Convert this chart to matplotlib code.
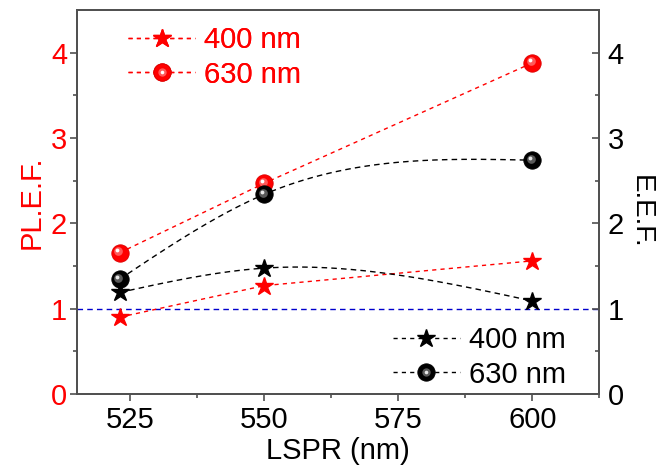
import numpy as np
import matplotlib
matplotlib.use("Agg")
import matplotlib.pyplot as plt
from matplotlib.transforms import offset_copy
from matplotlib.lines import Line2D
from matplotlib.legend_handler import HandlerTuple

# ---- data ----
lspr = [523, 550, 600]
pl_400 = [0.90, 1.27, 1.56]
pl_630 = [1.655, 2.47, 3.88]
eef_400 = [1.19, 1.475, 1.09]
eef_630 = [1.345, 2.34, 2.74]
series_labels = ["400 nm", "630 nm"]
x_ticks = [525, 550, 575, 600]
y_ticks = [0, 1, 2, 3, 4]

plt.rcParams['font.family'] = ['Liberation Sans', 'DejaVu Sans']
FS = 21


def natural_spline(x, y, n=200):
    x = np.asarray(x, float); y = np.asarray(y, float)
    k = len(x); h = np.diff(x)
    A = np.zeros((k, k)); b = np.zeros(k)
    A[0, 0] = 1; A[-1, -1] = 1
    for i in range(1, k - 1):
        A[i, i - 1] = h[i - 1]; A[i, i] = 2 * (h[i - 1] + h[i]); A[i, i + 1] = h[i]
        b[i] = 6 * ((y[i + 1] - y[i]) / h[i] - (y[i] - y[i - 1]) / h[i - 1])
    M = np.linalg.solve(A, b)
    xs = np.linspace(x[0], x[-1], n); ys = np.empty_like(xs)
    for j, xv in enumerate(xs):
        i = min(np.searchsorted(x, xv, side='right') - 1, k - 2)
        a = x[i + 1] - xv; c = xv - x[i]
        ys[j] = (M[i] * a**3 + M[i + 1] * c**3) / (6 * h[i]) + (y[i] / h[i] - M[i] * h[i] / 6) * a + (y[i + 1] / h[i] - M[i + 1] * h[i] / 6) * c
    return xs, ys


fig = plt.figure(figsize=(6.56, 4.72), dpi=100)
ax = fig.add_axes([0.117, 0.1653, 0.7966, 0.8135])
ax2 = ax.twinx()

RED = '#ff0000'
SPINE = '#505050'


def sphere(axis, x, y, base, edge, mid, hi, ms, z=5):
    axis.plot(x, y, 'o', ms=ms, mfc=base, mec=edge, mew=0.6, ls='none', zorder=z)
    t1 = offset_copy(axis.transData, fig=fig, x=-1.2, y=1.2, units='points')
    axis.plot(x, y, 'o', ms=ms * 0.5, mfc=mid, mec='none', ls='none', transform=t1, zorder=z + 0.1, alpha=0.8)
    t2 = offset_copy(axis.transData, fig=fig, x=-1.6, y=1.8, units='points')
    axis.plot(x, y, 'o', ms=ms * 0.22, mfc=hi, mec='none', ls='none', transform=t2, zorder=z + 0.2)


# blue reference line
ax.axhline(1, color='#0000cc', lw=1.0, ls=(0, (4, 3)), zorder=1)

# red: straight dashed
ax.plot(lspr, pl_400, color=RED, lw=1.0, ls=(0, (3, 3)), zorder=3)
ax.plot(lspr, pl_400, '*', ms=13.5, color=RED, mec=RED, ls='none', zorder=5)
ax.plot(lspr, pl_630, color=RED, lw=1.0, ls=(0, (3, 3)), zorder=3)
sphere(ax, lspr, pl_630, RED, '#dd0000', '#ff7070', '#ffffff', 12.5)

# black: smooth dashed
sx, sy = natural_spline(lspr, eef_400)
ax2.plot(sx, sy, color='black', lw=1.0, ls=(0, (4, 3)), zorder=3)
ax2.plot(lspr, eef_400, '*', ms=13.5, color='black', ls='none', zorder=5)
sx, sy = natural_spline(lspr, eef_630)
ax2.plot(sx, sy, color='black', lw=1.0, ls=(0, (4, 3)), zorder=3)
sphere(ax2, lspr, eef_630, 'black', 'black', '#707070', '#e8e8e8', 12.5)

for a in (ax, ax2):
    a.set_xlim(515, 610)
    a.set_ylim(0, 4.5)
    for s in a.spines.values():
        s.set_color(SPINE); s.set_linewidth(1.3)

ax.set_xticks(x_ticks)
ax.set_xticks([512.5 + 12.5 * i for i in range(9)][1:], minor=True)
ax.set_yticks(y_ticks)
ax.set_yticks([0.5, 1.5, 2.5, 3.5], minor=True)
ax.tick_params(axis='y', which='both', direction='out', colors=SPINE, labelcolor=RED, labelsize=FS, length=5, width=1.2, pad=2)
ax.tick_params(axis='y', which='minor', length=3)
ax.tick_params(axis='x', which='both', direction='out', colors=SPINE, labelcolor='black', labelsize=FS, length=5, width=1.2, pad=4)
ax.tick_params(axis='x', which='minor', length=3)
ax2.set_yticks(y_ticks)
ax2.set_yticks([0.5, 1.5, 2.5, 3.5], minor=True)
ax2.tick_params(axis='y', which='both', direction='in', colors=SPINE, labelcolor='black', labelsize=FS, length=5, width=1.2, pad=6)
ax2.tick_params(axis='y', which='minor', length=3)

ax.set_xlabel('LSPR (nm)', fontsize=FS, labelpad=2)
ax.set_ylabel('PL.E.F.', fontsize=FS, color=RED, labelpad=4)
ax2.set_ylabel('E.E.F.', fontsize=20, color='black', rotation=270)
ax2.yaxis.set_label_coords(1.079, 0.475)
ax2.yaxis.label.set_ha('center')
ax2.yaxis.label.set_va('center')

# legends
def sph_handle(base, edge, mid, hi, lcolor):
    l = Line2D([], [], color=lcolor, lw=1.0, ls=(0, (3, 3)), marker='o', ms=12.5, mfc=base, mec=edge, mew=0.6)
    m = Line2D([], [], ls='none', marker='o', ms=6, mfc=mid, mec='none', alpha=0.8)
    h = Line2D([], [], ls='none', marker='o', ms=2.6, mfc=hi, mec='none')
    return (l, m, h)

h_red = [Line2D([], [], color=RED, lw=1.0, ls=(0, (3, 3)), marker='*', ms=13.5, mfc=RED, mec=RED),
         sph_handle(RED, '#dd0000', '#ff7070', '#ffffff', RED)]
leg1 = ax.legend(h_red, series_labels, loc='upper left', bbox_to_anchor=(0.098, 0.958), frameon=False,
                 fontsize=FS, handlelength=2.3, handletextpad=0.3, labelspacing=0.22, borderpad=0, borderaxespad=0,
                 handler_map={tuple: HandlerTuple(ndivide=1, pad=0)})
for t in leg1.get_texts():
    t.set_color(RED)
ax.add_artist(leg1)

h_blk = [Line2D([], [], color='black', lw=1.0, ls=(0, (3, 3)), marker='*', ms=13.5, mfc='black', mec='black'),
         sph_handle('black', 'black', '#707070', '#e8e8e8', 'black')]
leg2 = ax2.legend(h_blk, series_labels, loc='lower left', bbox_to_anchor=(0.605, 0.014), frameon=False,
                  fontsize=FS, handlelength=2.3, handletextpad=0.3, labelspacing=0.22, borderpad=0, borderaxespad=0,
                  handler_map={tuple: HandlerTuple(ndivide=1, pad=0)})

fig.savefig('out.png', dpi=100)
